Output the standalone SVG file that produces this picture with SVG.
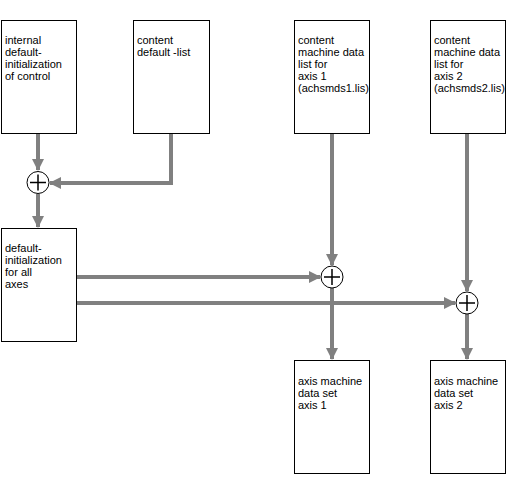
<svg xmlns="http://www.w3.org/2000/svg" width="506" height="493" viewBox="0 0 506 493">
<style>
.box{fill:#fff;stroke:#000;stroke-width:1}
.t{font-family:"Liberation Sans",Arial,sans-serif;font-size:11px;fill:#000}
.c{fill:#fff;stroke:#000;stroke-width:1}
.p{stroke:#000;stroke-width:1.5}
.ln{fill:none;stroke:#808080;stroke-width:4}
</style>
<defs>
<marker id="ah" markerUnits="userSpaceOnUse" markerWidth="14" markerHeight="14" refX="11" refY="7" orient="auto">
<path d="M0,1 L12,7 L0,13 Z" fill="#808080"/>
</marker>
</defs>
<g id="connectors">
<path class="ln" d="M38,133 V170" marker-end="url(#ah)"/>
<path class="ln" d="M171,133 V183 H50" marker-end="url(#ah)"/>
<path class="ln" d="M38,194 V227" marker-end="url(#ah)"/>
<path class="ln" d="M332,133 V265" marker-end="url(#ah)"/>
<path class="ln" d="M76,277 H320" marker-end="url(#ah)"/>
<path class="ln" d="M332,288 V359" marker-end="url(#ah)"/>
<path class="ln" d="M467,133 V291" marker-end="url(#ah)"/>
<path class="ln" d="M76,303 H455" marker-end="url(#ah)"/>
<path class="ln" d="M467,314 V359" marker-end="url(#ah)"/>
</g>
<g id="n1"><rect class="box" x="1.5" y="20.5" width="75" height="113"/>
<text class="t"><tspan x="5" y="44">internal</tspan><tspan x="5" y="56">default-</tspan><tspan x="5" y="68">initialization</tspan><tspan x="5" y="80">of control</tspan></text></g>
<g id="n2"><rect class="box" x="133.5" y="20.5" width="76" height="113"/>
<text class="t"><tspan x="137" y="44">content</tspan><tspan x="137" y="56">default -list</tspan></text></g>
<g id="n3"><rect class="box" x="294.5" y="20.5" width="75" height="113"/>
<text class="t"><tspan x="298" y="44">content</tspan><tspan x="298" y="56">machine data</tspan><tspan x="298" y="68">list for</tspan><tspan x="298" y="80">axis 1</tspan><tspan x="298" y="92">(achsmds1.lis)</tspan></text></g>
<g id="n4"><rect class="box" x="430.5" y="20.5" width="75" height="113"/>
<text class="t"><tspan x="434" y="44">content</tspan><tspan x="434" y="56">machine data</tspan><tspan x="434" y="68">list for</tspan><tspan x="434" y="80">axis 2</tspan><tspan x="434" y="92">(achsmds2.lis)</tspan></text></g>
<g id="n5"><rect class="box" x="1.5" y="228.5" width="75" height="113"/>
<text class="t"><tspan x="5" y="252">default-</tspan><tspan x="5" y="264">initialization</tspan><tspan x="5" y="276">for all</tspan><tspan x="5" y="288">axes</tspan></text></g>
<g id="n6"><rect class="box" x="294.5" y="360.5" width="75" height="113"/>
<text class="t"><tspan x="298" y="385">axis machine</tspan><tspan x="298" y="397">data set</tspan><tspan x="298" y="409">axis 1</tspan></text></g>
<g id="n7"><rect class="box" x="430.5" y="360.5" width="75" height="113"/>
<text class="t"><tspan x="434" y="385">axis machine</tspan><tspan x="434" y="397">data set</tspan><tspan x="434" y="409">axis 2</tspan></text></g>
<g id="sum1"><circle class="c" cx="38" cy="182.5" r="11"/><path class="p" d="M30,182.5 H46 M38,174.5 V190.5"/></g>
<g id="sum2"><circle class="c" cx="332" cy="277" r="11"/><path class="p" d="M324,277 H340 M332,269 V285"/></g>
<g id="sum3"><circle class="c" cx="467" cy="303" r="11"/><path class="p" d="M459,303 H475 M467,295 V311"/></g>
</svg>
